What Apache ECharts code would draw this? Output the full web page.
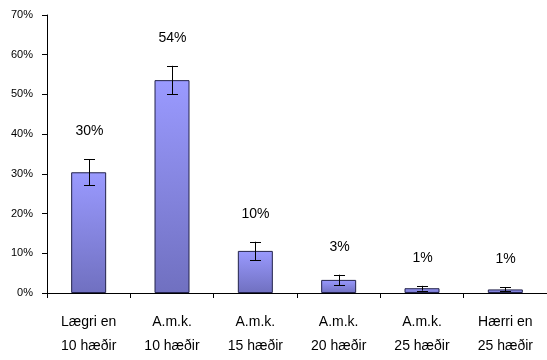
<!DOCTYPE html>
<html>
<head>
<meta charset="utf-8">
<script src="https://cdn.jsdelivr.net/npm/echarts@6/dist/echarts.min.js"></script>
<style>
html,body{margin:0;padding:0;background:#fff;}
#chart{width:547px;height:360px;}
</style>
</head>
<body>
<div id="chart"></div>
<script>
var categories = ['Lægri en\n10 hæðir', 'A.m.k.\n10 hæðir', 'A.m.k.\n15 hæðir', 'A.m.k.\n20 hæðir', 'A.m.k.\n25 hæðir', 'Hærri en\n25 hæðir'];
var values = [30.4, 53.6, 10.6, 3.3, 1.2, 0.9];
var errors = [3.3, 3.6, 2.3, 1.3, 0.6, 0.5];
var labels = ['30%', '54%', '10%', '3%', '1%', '1%'];
var yTicks = [0, 10, 20, 30, 40, 50, 60, 70];

var chart = echarts.init(document.getElementById('chart'), null, {renderer: 'canvas'});
var font = '"Liberation Sans", Arial, sans-serif';

var errData = values.map(function (v, i) { return [i, v - errors[i], v + errors[i], labels[i]]; });

chart.setOption({
  animation: false,
  backgroundColor: '#ffffff',
  grid: {left: 47, top: 15, width: 501, height: 278, containLabel: false},
  xAxis: {
    type: 'category',
    data: categories,
    axisLine: {lineStyle: {color: '#000', width: 1}},
    axisTick: {show: true, length: 5, lineStyle: {color: '#000'}, alignWithLabel: false},
    axisLabel: {color: '#000', fontFamily: font, fontSize: 14, lineHeight: 24, margin: 17, interval: 0}
  },
  yAxis: {
    type: 'value',
    min: 0, max: 70, interval: 10,
    axisLine: {show: true, lineStyle: {color: '#000', width: 1}},
    axisTick: {show: true, length: 5, lineStyle: {color: '#000'}},
    splitLine: {show: false},
    axisLabel: {color: '#000', fontFamily: font, fontSize: 11, margin: 14,
      formatter: function (v) { return yTicks.indexOf(v) >= 0 ? v + '%' : ''; }}
  },
  series: [
    {
      type: 'bar',
      data: values,
      barWidth: 35,
      itemStyle: {
        color: {type: 'linear', x: 0, y: 0, x2: 0, y2: 1,
          colorStops: [{offset: 0, color: '#9a9aff'}, {offset: 1, color: '#7070c0'}]},
        borderColor: '#22224a',
        borderWidth: 1
      },
      z: 2
    },
    {
      type: 'custom',
      data: errData,
      z: 5,
      renderItem: function (params, api) {
        var x = api.value(0);
        var lo = api.coord([x, api.value(1)]);
        var hi = api.coord([x, api.value(2)]);
        var cx = Math.round(lo[0]) + 0.5;
        var hw = 5.5;
        var st = {stroke: '#000', lineWidth: 1};
        return {
          type: 'group',
          children: [
            {type: 'line', shape: {x1: cx, y1: lo[1], x2: cx, y2: hi[1]}, style: st},
            {type: 'line', shape: {x1: cx - hw, y1: Math.round(lo[1]) + 0.5, x2: cx + hw, y2: Math.round(lo[1]) + 0.5}, style: st},
            {type: 'line', shape: {x1: cx - hw, y1: Math.round(hi[1]) + 0.5, x2: cx + hw, y2: Math.round(hi[1]) + 0.5}, style: st},
            {type: 'text', x: cx, y: hi[1] - 28, style: {text: labels[params.dataIndex], fill: '#000',
              font: '14px ' + font, textAlign: 'center', textVerticalAlign: 'middle'}}
          ]
        };
      }
    }
  ]
});
</script>
</body>
</html>
